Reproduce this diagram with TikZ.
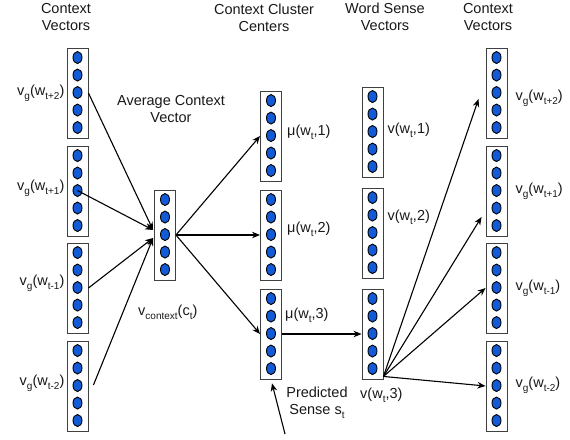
\documentclass[tikz,border=0pt]{standalone}
\usepackage{fontspec}
\setmainfont{Liberation Sans}
\usetikzlibrary{calc,arrows.meta,shapes.geometric}
\tikzset {>=Stealth}
\definecolor{unitblue}{RGB}{18,90,214}
\tikzset{
  vecbox/.style={draw=black!75, fill=white, line width=0.9pt, minimum width=21pt, minimum height=90pt, inner sep=0pt},
  unit/.style={ellipse, draw=black, fill=unitblue, line width=0.9pt, minimum width=9pt, minimum height=12pt, inner sep=0pt},
  txt/.style={font=\fontsize{14.5}{17}\selectfont, text=black!90, inner sep=0pt, align=center},
  link/.style={->, >={Stealth[length=8pt,width=6.5pt]}, line width=1.1pt}
}
\newcommand{\sub}[1]{\raisebox{-4pt}{\fontsize{10}{10}\selectfont #1}}
\newcommand{\vecnode}[3]{%
  \node[vecbox] (#1) at (#2,#3) {};
  \foreach \k in {1,...,5}
    \node[unit] (#1-\k) at ($(#1.north)+(0,-7.5+17.5*\k)$) {};
}

\begin{document}
\begin{tikzpicture}[x=1pt,y=-1pt]
\useasboundingbox (0,0) rectangle (570,439);

% Headers
\node[txt] (hdL) at (66,17) {Context\\Vectors};
\node[txt] (hdC) at (264,18) {Context Cluster\\Centers};
\node[txt] (hdW) at (385,17) {Word Sense\\Vectors};
\node[txt] (hdR) at (488,17) {Context\\Vectors};
\node[txt] (hdA) at (171,109) {Average Context\\Vector};

% Input context vectors
\vecnode{L1}{77.5}{93}
\vecnode{L2}{77.5}{191}
\vecnode{L3}{77.5}{288}
\vecnode{L4}{77.5}{386}
\node[txt,anchor=base east] (lbL1) at ($(L1.west)+(-2,2)$) {v\sub{g}(w\sub{t+2})};
\node[txt,anchor=base east] (lbL2) at ($(L2.west)+(-2,-1)$) {v\sub{g}(w\sub{t+1})};
\node[txt,anchor=base east] (lbL3) at ($(L3.west)+(-2,-3)$) {v\sub{g}(w\sub{t-1})};
\node[txt,anchor=base east] (lbL4) at ($(L4.west)+(-2,-1)$) {v\sub{g}(w\sub{t-2})};

% Average context vector
\vecnode{A}{165}{235}
\node[txt,anchor=base west] (lbA) at (138,315) {v\sub{context}(c\sub{t})};

% Cluster centers
\vecnode{C1}{271}{136}
\vecnode{C2}{271}{235}
\vecnode{C3}{271}{334}
\node[txt,anchor=base west] (lbC1) at ($(C1.east)+(5,-1)$) {μ(w\sub{t},1)};
\node[txt,anchor=base west] (lbC2) at ($(C2.east)+(5,-3)$) {μ(w\sub{t},2)};
\node[txt,anchor=base west] (lbC3) at ($(C3.east)+(3,-16)$) {μ(w\sub{t},3)};

% Word sense vectors
\vecnode{W1}{372.5}{132}
\vecnode{W2}{372.5}{233}
\vecnode{W3}{372.5}{334}
\node[txt,anchor=base west] (lbW1) at ($(W1.east)+(4,1)$) {v(w\sub{t},1)};
\node[txt,anchor=base west] (lbW2) at ($(W2.east)+(4,-13)$) {v(w\sub{t},2)};
\node[txt,anchor=base west] (lbW3) at (360,398) {v(w\sub{t},3)};

% Output context vectors
\vecnode{R1}{496.5}{93}
\vecnode{R2}{496.5}{191}
\vecnode{R3}{496.5}{288}
\vecnode{R4}{496.5}{386}
\node[txt,anchor=base west] (lbR1) at ($(R1.east)+(8,7)$) {v\sub{g}(w\sub{t+2})};
\node[txt,anchor=base west] (lbR2) at ($(R2.east)+(8,2)$) {v\sub{g}(w\sub{t+1})};
\node[txt,anchor=base west] (lbR3) at ($(R3.east)+(8,2)$) {v\sub{g}(w\sub{t-1})};
\node[txt,anchor=base west] (lbR4) at ($(R4.east)+(8,1)$) {v\sub{g}(w\sub{t-2})};

% Predicted sense
\node[txt,anchor=north] (lbS) at (317,387) {Predicted\\Sense s\sub{t}};

% Context to average
\coordinate (Ain1) at ($(A.west)+(-1,-5)$);
\coordinate (Ain2) at ($(A.west)+(-1,3)$);
\coordinate (L4out) at ($(L4.east)+(5,-1)$);
\draw[link] (L1.east) -- (Ain1);
\draw[link] (L2-3.center) -- (Ain1);
\draw[link] (L3.east) -- (Ain2);
\draw[link] (L4out) -- (Ain2);

% Average to cluster centers
\draw[link] (A.east) -- (C1.west);
\draw[link] (A.east) -- (C2.west);
\draw[link] (A.east) -- (C3.west);

% Chosen cluster to sense vector
\draw[link] (C3.east) -- (W3.west);
\coordinate (sense) at (285,434);
\draw[link,shorten >=4pt] (sense) -- (C3.south);

% Sense vector to context vectors
\coordinate (fan) at ($(W3.south east)+(0,-3)$);
\coordinate (R1in) at ($(R1.west)+(-7,6)$);
\coordinate (R2in) at ($(R2.west)+(-4,26)$);
\draw[link] (fan) -- (R1in);
\draw[link] (fan) -- (R2in);
\draw[link] (fan) -- (R3.west);
\draw[link] (fan) -- (R4.west);

\end{tikzpicture}
\end{document}
